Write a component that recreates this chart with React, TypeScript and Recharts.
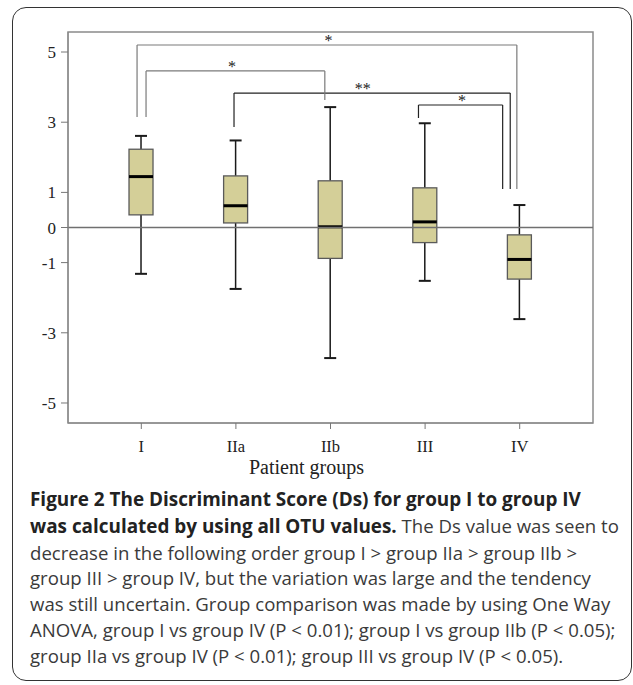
import React from "react";
import {
  ComposedChart,
  Bar,
  XAxis,
  YAxis,
  ReferenceLine,
  ReferenceArea,
  ReferenceDot,
  Label,
} from "recharts";

const groups = ["I", "IIa", "IIb", "III", "IV"];
const groupPos = [1, 2, 3, 4, 5];
const whiskerLow = [-1.32, -1.75, -3.72, -1.52, -2.61];
const q1s = [0.36, 0.13, -0.88, -0.43, -1.47];
const medians = [1.45, 0.62, 0.02, 0.16, -0.91];
const q3s = [2.23, 1.47, 1.33, 1.13, -0.21];
const whiskerHigh = [2.61, 2.48, 3.43, 2.97, 0.64];
const yTicks = [5, 3, 1, 0, -1, -3, -5];

// significance brackets (x = group position 1..5)
const bracketFrom = [0.955, 1.05, 1.98, 3.93];
const bracketTo = [4.97, 2.94, 4.9, 4.82];
const bracketLevel = [5.2, 4.46, 3.83, 3.49];
const bracketFromEnd = [3.15, 3.15, 2.86, 3.12];
const bracketToEnd = [1.1, 3.63, 1.1, 1.1];
const bracketMarks = ["*", "*", "**", "*"];
const bracketMarkX = [2.98, 1.96, 3.34, 4.39];
const bracketColors = ["#7a7a7a", "#7a7a7a", "#222", "#222"];

const Y_DOMAIN: [number, number] = [-5.57, 5.57];
const X_DOMAIN: [number, number] = [0.225, 5.775];

const data = groups.map((name, i) => ({
  name,
  pos: groupPos[i],
  box: [q1s[i], q3s[i]],
  min: whiskerLow[i],
  q1: q1s[i],
  median: medians[i],
  q3: q3s[i],
  max: whiskerHigh[i],
}));

const BoxShape = (props: any) => {
  const { x, y, width, height, payload } = props;
  if (x == null || y == null || !payload) return null;
  const top = Math.min(y, y + height);
  const h = Math.abs(height);
  const ppu = h / (payload.q3 - payload.q1);
  const py = (v: number) => top + (payload.q3 - v) * ppu;
  const cx = x + width / 2;
  const cap = 6;
  return (
    <g>
      <line x1={cx} x2={cx} y1={py(payload.max)} y2={top} stroke="#1a1a1a" strokeWidth={1.5} />
      <line x1={cx} x2={cx} y1={top + h} y2={py(payload.min)} stroke="#1a1a1a" strokeWidth={1.5} />
      <line x1={cx - cap} x2={cx + cap} y1={py(payload.max)} y2={py(payload.max)} stroke="#1a1a1a" strokeWidth={2} />
      <line x1={cx - cap} x2={cx + cap} y1={py(payload.min)} y2={py(payload.min)} stroke="#1a1a1a" strokeWidth={2} />
      <rect x={x} y={top} width={width} height={h} fill="#d4cf98" stroke="#5a5a5a" strokeWidth={1.3} />
      <line x1={x} x2={x + width} y1={py(payload.median)} y2={py(payload.median)} stroke="#000" strokeWidth={3} />
    </g>
  );
};

const captionLines = [
  "decrease in the following order group I > group IIa > group IIb >",
  "group III > group IV, but the variation was large and the tendency",
  "was still uncertain. Group comparison was made by using One Way",
  "ANOVA, group I vs group IV (P < 0.01); group I vs group IIb (P < 0.05);",
  "group IIa vs group IV (P < 0.01); group III vs group IV (P < 0.05).",
];

export default function App() {
  const serif = "'Liberation Serif', 'Times New Roman', serif";
  const bold = { fontWeight: 700, color: "#222", fontSize: 18.9 };
  return (
    <div style={{ position: "absolute", left: 0, top: 0, width: 633, height: 685, background: "#fff" }}>
      <div
        style={{
          position: "absolute",
          left: 12,
          top: 7,
          width: 618,
          height: 672,
          border: "1.5px solid #333",
          borderRadius: 14,
        }}
      />
      <div style={{ position: "absolute", left: 0, top: 0 }}>
        <ComposedChart
          width={633}
          height={490}
          data={data}
          margin={{ top: 32, right: 40, left: 8, bottom: 17 }}
        >
          <XAxis
            dataKey="pos"
            type="number"
            domain={X_DOMAIN}
            allowDataOverflow
            ticks={groupPos}
            interval={0}
            tickFormatter={(v: number) => groups[v - 1]}
            height={50}
            tickSize={6}
            tickMargin={11}
            tick={{ fontFamily: serif, fontSize: 16.5, fill: "#222" }}
            tickLine={{ stroke: "#777" }}
            axisLine={{ stroke: "#888" }}
          >
            <Label
              value="Patient groups"
              position="insideBottom"
              offset={-1}
              dx={-24}
              style={{ fontFamily: serif, fontSize: 20, fill: "#222" }}
            />
          </XAxis>
          <YAxis
            type="number"
            domain={Y_DOMAIN}
            ticks={yTicks}
            interval={0}
            allowDataOverflow
            width={60}
            tickSize={7}
            tickMargin={5}
            tick={{ fontFamily: serif, fontSize: 17, fill: "#222" }}
            tickLine={{ stroke: "#777" }}
            axisLine={{ stroke: "#888" }}
          />
          <ReferenceArea
            x1={X_DOMAIN[0]}
            x2={X_DOMAIN[1]}
            y1={Y_DOMAIN[0]}
            y2={Y_DOMAIN[1]}
            fill="none"
            fillOpacity={0}
            stroke="#8a8a8a"
            strokeWidth={1.5}
            ifOverflow="visible"
          />
          <ReferenceLine y={0} stroke="#707070" strokeWidth={1.3} />
          <Bar dataKey="box" barSize={24} shape={<BoxShape />} isAnimationActive={false} />
          {bracketFrom.map((from, i) => (
            <ReferenceLine
              key={"l" + i}
              stroke={bracketColors[i]}
              strokeWidth={1.2}
              segment={[
                { x: from, y: bracketFromEnd[i] },
                { x: from, y: bracketLevel[i] },
              ]}
            />
          ))}
          {bracketFrom.map((from, i) => (
            <ReferenceLine
              key={"h" + i}
              stroke={bracketColors[i]}
              strokeWidth={1.2}
              segment={[
                { x: from, y: bracketLevel[i] },
                { x: bracketTo[i], y: bracketLevel[i] },
              ]}
            />
          ))}
          {bracketTo.map((to, i) => (
            <ReferenceLine
              key={"r" + i}
              stroke={bracketColors[i]}
              strokeWidth={1.2}
              segment={[
                { x: to, y: bracketLevel[i] },
                { x: to, y: bracketToEnd[i] },
              ]}
            />
          ))}
          {bracketMarks.map((m, i) => (
            <ReferenceDot
              key={"m" + i}
              x={bracketMarkX[i]}
              y={bracketLevel[i]}
              r={0}
              fill="none"
              stroke="none"
              label={{ value: m, position: "top", offset: -1, fontFamily: serif, fontSize: 16, fill: "#222" }}
            />
          ))}
        </ComposedChart>
      </div>
      <div
        style={{
          position: "absolute",
          left: 30,
          top: 487,
          fontFamily: "'Open Sans', 'Noto Sans', sans-serif",
          fontSize: 18.6,
          lineHeight: "25.8px",
          color: "#3a3a3a",
          whiteSpace: "nowrap",
        }}
      >
        <div style={bold}>Figure 2 The Discriminant Score (Ds) for group I to group IV</div>
        <div>
          <span style={bold}>was calculated by using all OTU values.</span> The Ds value was seen to
        </div>
        {captionLines.map((t) => (
          <div key={t}>{t}</div>
        ))}
      </div>
    </div>
  );
}
